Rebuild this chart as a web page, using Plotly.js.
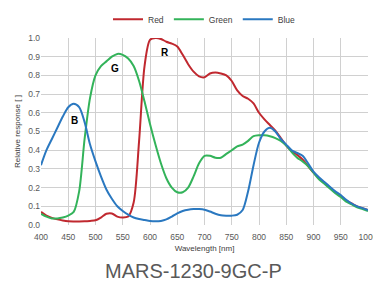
<!DOCTYPE html>
<html><head><meta charset="utf-8">
<script src="https://cdn.plot.ly/plotly-3.0.1.min.js"></script>
<style>html,body{margin:0;padding:0;background:#fff}#c{width:373px;height:304px}</style>
</head><body><div id="c"></div>
<script>
const wavelength = [400,410,420,430,440,450,460,470,480,490,500,510,520,530,540,550,560,570,580,590,600,610,620,630,640,650,660,670,680,690,700,710,720,730,740,750,760,770,780,790,800,810,820,830,840,850,860,870,880,890,900,910,920,930,940,950,960,970,980,990,1000];
const red = [0.07,0.05,0.038,0.03,0.024,0.02,0.019,0.019,0.02,0.022,0.025,0.04,0.06,0.062,0.045,0.04,0.045,0.12,0.45,0.85,0.99,1.0,0.995,0.98,0.97,0.955,0.91,0.86,0.82,0.795,0.79,0.81,0.815,0.81,0.80,0.77,0.72,0.69,0.675,0.65,0.60,0.565,0.535,0.505,0.465,0.425,0.395,0.375,0.35,0.315,0.28,0.25,0.225,0.20,0.175,0.155,0.13,0.115,0.10,0.09,0.08];
const green = [0.06,0.045,0.035,0.035,0.04,0.05,0.07,0.18,0.46,0.68,0.80,0.85,0.875,0.90,0.915,0.91,0.89,0.85,0.77,0.66,0.54,0.43,0.33,0.25,0.20,0.175,0.175,0.20,0.26,0.33,0.37,0.37,0.36,0.36,0.38,0.40,0.42,0.43,0.45,0.475,0.48,0.48,0.475,0.465,0.45,0.425,0.39,0.36,0.34,0.315,0.28,0.245,0.22,0.195,0.17,0.15,0.125,0.11,0.095,0.085,0.075];
const blue = [0.32,0.40,0.46,0.52,0.58,0.63,0.648,0.63,0.55,0.43,0.34,0.26,0.19,0.14,0.10,0.075,0.055,0.04,0.032,0.027,0.022,0.02,0.022,0.03,0.045,0.062,0.075,0.082,0.085,0.085,0.082,0.072,0.06,0.052,0.05,0.05,0.055,0.08,0.18,0.32,0.44,0.50,0.52,0.50,0.46,0.43,0.40,0.385,0.37,0.33,0.285,0.255,0.23,0.205,0.18,0.16,0.135,0.115,0.10,0.09,0.08];
const seriesNames = ["Red","Green","Blue"];
const seriesColors = ["#c0282f","#33b35a","#2a78c0"];
const labels = [{t:"R",x:627,y:0.92},{t:"G",x:535,y:0.835},{t:"B",x:462,y:0.56}];
const xTicks = [400,450,500,550,600,650,700,750,800,850,900,950,1000];
const yTicks = [0,0.1,0.2,0.3,0.4,0.5,0.6,0.7,0.8,0.9,1.0];

const data = [red,green,blue].map((v,i)=>({
  x: wavelength, y: v, type:"scatter", mode:"lines", name: seriesNames[i],
  line:{color:seriesColors[i], width:2, shape:"spline", smoothing:0.8}
}));
const tickFont = {family:"Liberation Sans, Arial, sans-serif", size:8.5, color:"#595959"};
const layout = {
  width:373, height:304,
  margin:{l:41, r:5, t:35, b:79},
  paper_bgcolor:"#fff", plot_bgcolor:"#fff",
  showlegend:true,
  legend:{orientation:"h", x:0.5, xanchor:"center", y:1.1, yanchor:"middle",
    font:{family:"Liberation Sans, Arial, sans-serif", size:8.5, color:"#404040"},
    itemwidth:30, tracegroupgap:0},
  xaxis:{range:[400,1000], tickvals:xTicks, ticktext:xTicks.map(String), showgrid:true, gridcolor:"#d0d0d0", gridwidth:1,
    zeroline:false, showline:false, ticks:"", tickfont:tickFont, ticklabeloverflow:"allow", ticklabelstandoff:5,
    title:{text:"Wavelength [nm]", font:{family:"Liberation Sans, Arial, sans-serif", size:8, color:"#404040"}, standoff:4}},
  yaxis:{range:[0,1.0], tickvals:yTicks, ticktext:yTicks.map(v=>v.toFixed(1)), showgrid:true, gridcolor:"#d0d0d0", gridwidth:1,
    zeroline:false, showline:false, ticks:"", tickfont:tickFont, ticklabeloverflow:"allow",
    title:{text:"Relative response [ ]", font:{family:"Liberation Sans, Arial, sans-serif", size:8, color:"#404040"}, standoff:6}},
  annotations: labels.map(l=>({x:l.x, y:l.y, text:"<b>"+l.t+"</b>", showarrow:false,
    font:{family:"Liberation Sans, Arial, sans-serif", size:10, color:"#000"}})).concat([
    {xref:"paper", yref:"paper", x:0.465, y:-0.175, yanchor:"top", xanchor:"center", text:"MARS-1230-9GC-P", showarrow:false,
     font:{family:"Liberation Sans, Arial, sans-serif", size:20, color:"#595959"}}
  ])
};
Plotly.newPlot("c", data, layout, {displayModeBar:false, staticPlot:true});
</script></body></html>
